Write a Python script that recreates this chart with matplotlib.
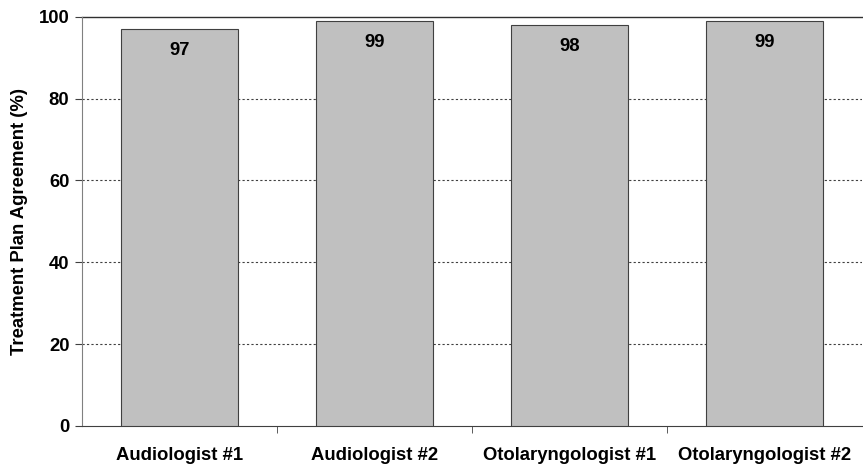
import numpy as np
import matplotlib.pyplot as plt

# data
categories = ['Audiologist #1', 'Audiologist #2', 'Otolaryngologist #1', 'Otolaryngologist #2']
agreement = [97, 99, 98, 99]
yticks = [0, 20, 40, 60, 80, 100]

plt.rcParams['font.family'] = ['Liberation Sans', 'DejaVu Sans']
plt.rcParams['font.weight'] = 'bold'
fs = 13.3

fig = plt.figure(figsize=(8.63, 4.68), dpi=100)
ax = fig.add_axes([0.095, 0.09, 0.904, 0.874])

x = np.arange(len(categories))
ax.bar(x, agreement, width=0.6, color='#c0c0c0', edgecolor='#404040', linewidth=0.8, zorder=3)

# value labels near the top of each bar
for xi, v in zip(x, agreement):
    ax.text(xi, v - 3.2, str(v), ha='center', va='top', fontsize=fs, fontweight='bold', zorder=4)

ax.set_xlim(-0.5, len(categories) - 0.5)
ax.set_ylim(0, 100)
ax.set_yticks(yticks)
ax.set_yticklabels([str(t) for t in yticks], fontsize=fs, fontweight='bold')
ax.set_xticks(x)
ax.set_xticklabels(categories, fontsize=fs, fontweight='bold')
ax.tick_params(axis='x', length=0, pad=15)
ax.set_xticks(x[:-1] + 0.5, minor=True)
ax.tick_params(axis='x', which='minor', length=5, direction='out', color='#404040')
ax.tick_params(axis='y', length=5, direction='out', color='#404040', pad=4)

for t in yticks[1:-1]:
    ax.axhline(t, color='#404040', linestyle=(0, (2, 2)), linewidth=0.8, zorder=1)
ax.axhline(100, color='#303030', linewidth=1.0, zorder=1, clip_on=False)

ax.spines['right'].set_visible(False)
ax.spines['top'].set_visible(False)
ax.spines['left'].set_color('#808080')
ax.spines['bottom'].set_color('#404040')

ax.set_ylabel('Treatment Plan Agreement (%)', fontsize=fs, fontweight='bold', labelpad=8)

fig.savefig('out.png', dpi=100)
